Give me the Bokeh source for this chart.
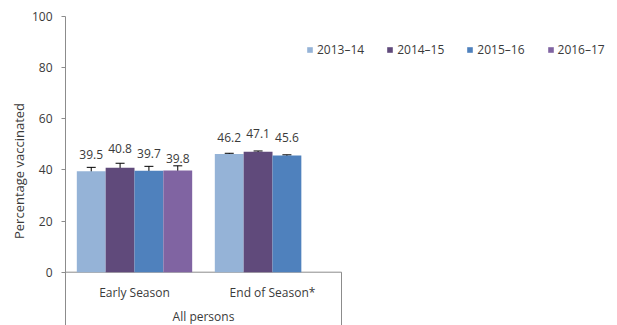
from bokeh.plotting import figure
from bokeh.models import (ColumnDataSource, Range1d, FixedTicker, Whisker, TeeHead,
                          Legend, LegendItem, LabelSet, Label)
from bokeh.core.properties import value
from bokeh.embed import file_html
from bokeh.resources import INLINE

# ---- data -------------------------------------------------------------
groups = ["Early Season", "End of Season*"]
group_title = "All persons"
seasons = ["2013–14", "2014–15", "2015–16", "2016–17"]

v_2013_14 = [39.5, 46.2]
v_2014_15 = [40.8, 47.1]
v_2015_16 = [39.7, 45.6]
v_2016_17 = [39.8, None]

ci_2013_14 = [1.5, 0.3]
ci_2014_15 = [1.8, 0.3]
ci_2015_16 = [1.7, 0.3]
ci_2016_17 = [1.8, None]

y_ticks = [0, 20, 40, 60, 80, 100]

# ---- styling ----------------------------------------------------------
colors = ["#95B3D7", "#604A7B", "#4F81BD", "#8064A2"]
label_lift = [[17, 17], [19, 18], [17, 18], [12, 0]]   # px between bar top and value label
FONT = "Open Sans"
TEXT = "#3a3a3a"
AXIS = "#8c8c8c"
bar_w = 0.209

series = [v_2013_14, v_2014_15, v_2015_16, v_2016_17]
cis = [ci_2013_14, ci_2014_15, ci_2015_16, ci_2016_17]

p = figure(width=617, height=325, output_backend="svg", toolbar_location=None,
           x_range=Range1d(0, 4), y_range=Range1d(-20.85, 100),
           x_axis_location=None, min_border_left=65, min_border_right=0,
           min_border_top=16, min_border_bottom=0, outline_line_color=None)
p.xgrid.visible = False
p.ygrid.visible = False

# y axis
ax = p.yaxis[0]
ax.ticker = FixedTicker(ticks=y_ticks)
ax.axis_line_color = AXIS
ax.major_tick_line_color = AXIS
ax.major_tick_out = 4
ax.major_tick_in = 0
ax.minor_tick_line_color = None
ax.major_label_standoff = 9
ax.major_label_text_font = FONT
ax.major_label_text_font_size = "12px"
ax.major_label_text_color = TEXT
ax.axis_label = "Percentage vaccinated"
ax.axis_label_text_font = FONT
ax.axis_label_text_font_size = "13px"
ax.axis_label_text_font_style = "normal"
ax.axis_label_text_color = TEXT
ax.axis_label_standoff = 1

# category axis line and right-hand divider
n = len(groups)
p.segment(x0=[0], y0=[0], x1=[n], y1=[0], line_color=AXIS, line_width=1)
p.segment(x0=[n], y0=[0], x1=[n], y1=[p.y_range.start], line_color=AXIS, line_width=1)

legend_items = []
for j, (vals, ci) in enumerate(zip(series, cis)):
    xs, tops, up, lo, txt, lift = [], [], [], [], [], []
    for i, v in enumerate(vals):
        if v is None:
            continue
        xs.append(i + 0.5 + (j - 1.5) * bar_w)
        tops.append(v)
        up.append(v + ci[i])
        lo.append(v - ci[i])
        txt.append(f"{v:.1f}")
        lift.append(label_lift[j][i])
    src = ColumnDataSource(dict(x=xs, top=tops, upper=up, lower=lo, text=txt, lift=lift))
    r = p.vbar(x="x", top="top", bottom=0, width=bar_w, source=src,
               fill_color=colors[j], line_color=None)
    legend_items.append(LegendItem(label=seasons[j], renderers=[r]))
    p.add_layout(Whisker(base="x", upper="upper", lower="lower", source=src,
                         dimension="height", line_color="black", line_width=1,
                         upper_head=TeeHead(size=9, line_color="black", line_width=1),
                         lower_head=TeeHead(size=9, line_color="black", line_width=1)))
    p.add_layout(LabelSet(x="x", y="top", text="text", y_offset="lift", source=src,
                          text_align="center", text_baseline="middle",
                          text_font=value(FONT), text_font_size="12px", text_color=TEXT))

# category labels and group title below the axis line
cat_src = ColumnDataSource(dict(x=[i + 0.5 for i in range(n)], y=[0] * n, text=groups))
p.add_layout(LabelSet(x="x", y="y", text="text", source=cat_src, y_offset=-20,
                      text_align="center", text_baseline="middle",
                      text_font=value(FONT), text_font_size="12px", text_color=TEXT))
p.add_layout(Label(x=n / 2, y=0, text=group_title, y_offset=-44,
                   text_align="center", text_baseline="middle",
                   text_font=FONT, text_font_size="12px", text_color=TEXT))

legend = Legend(items=legend_items, orientation="horizontal", location=(241, 267),
                glyph_width=7, glyph_height=7, label_standoff=4, spacing=22,
                padding=0, margin=0, border_line_color=None, background_fill_alpha=0,
                label_text_font=FONT, label_text_font_size="12px",
                label_text_color=TEXT, label_height=14)
p.add_layout(legend)

open("out.html", "w").write(file_html(p, INLINE))
